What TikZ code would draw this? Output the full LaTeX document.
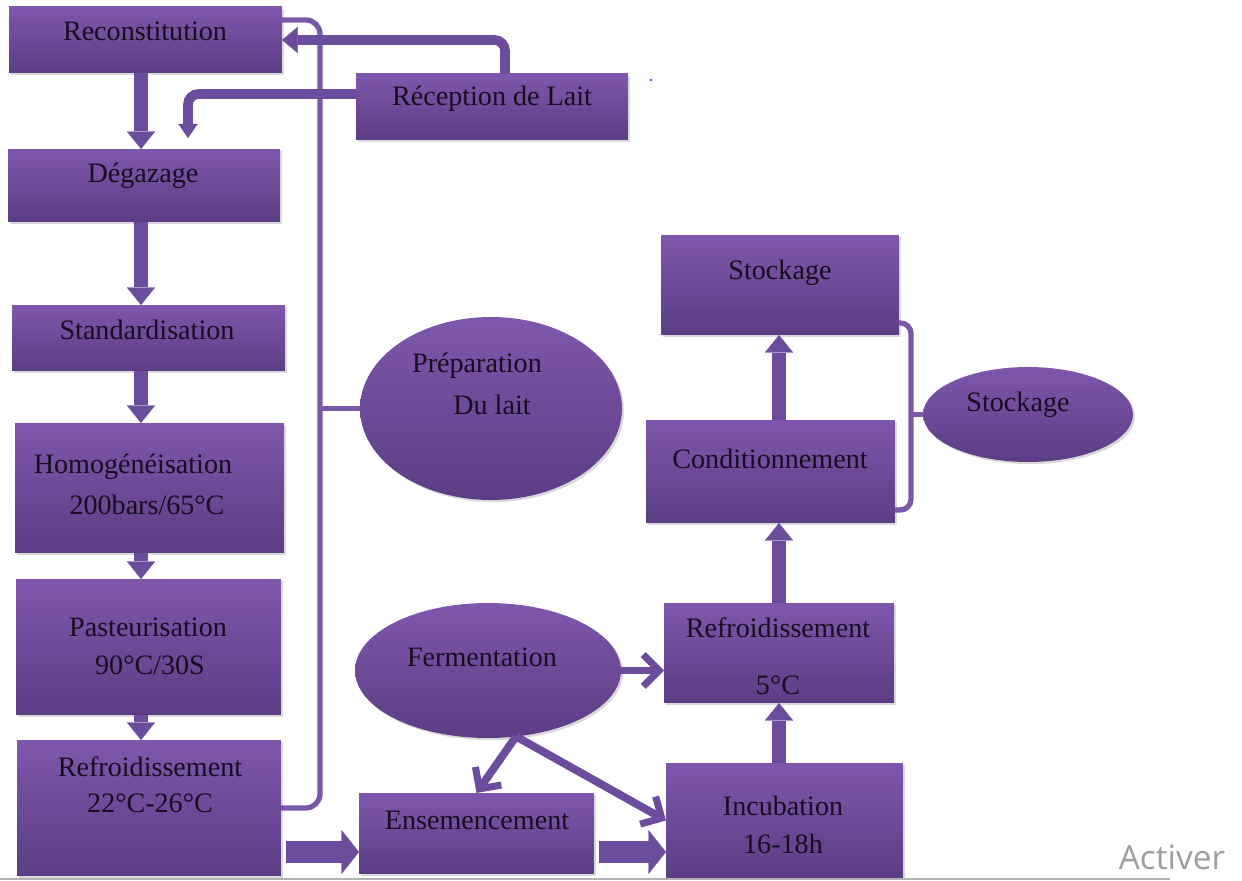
\documentclass[tikz,border=0pt]{standalone}
\usepackage{fontspec}
\setmainfont{Liberation Serif}
\newfontfamily\wmfont{Open Sans}
\usepackage{tikz}
\usetikzlibrary{shapes,arrows,positioning,calc,arrows.meta,shadows}

\definecolor{boxtop}{RGB}{126,87,172}
\definecolor{boxbot}{RGB}{92,61,132}
\definecolor{arrcol}{RGB}{108,76,156}
\definecolor{linecol}{RGB}{122,88,168}
\definecolor{txtcol}{RGB}{22,14,30}

\tikzset{
  box/.style={rectangle, inner sep=0pt, outer sep=0pt, top color=boxtop, bottom color=boxbot,
    drop shadow={opacity=0.3, shadow xshift=1.2pt, shadow yshift=-1.2pt}},
  oval/.style={ellipse, inner sep=0pt, outer sep=0pt, top color=boxtop, bottom color=boxbot,
    drop shadow={opacity=0.3, shadow xshift=1.2pt, shadow yshift=-1.2pt}},
  txt/.style={text=txtcol, font=\fontsize{16}{19}\selectfont, inner sep=0pt},
  wm/.style={text=black!38, font=\wmfont\fontsize{19}{22}\selectfont, inner sep=0pt},
  bigarrow/.style={arrcol, line width=8pt, -{Triangle[width=16pt,length=10pt,line width=0.1pt]}},
  fatarrow/.style={arrcol, line width=12.5pt, -{Triangle[width=25pt,length=10pt,line width=0.1pt]}},
  pipe/.style={arrcol, line width=5.5pt, rounded corners=6pt},
  bracket/.style={linecol, line width=3pt},
  barbarrow/.style={arrcol, line width=4.5pt, -{Straight Barb[length=9pt,width=18pt,line width=4pt]}}
}

\begin{document}
\begin{tikzpicture}[x=0.02cm, y=-0.02cm]
  \useasboundingbox (0,0) rectangle (1242,881);

  % Preparation steps
  \node[box, minimum width=5.46cm, minimum height=1.32cm] (recon) at (145.5,40) {};
  \node[box, minimum width=5.44cm, minimum height=1.32cm] (recep) at (492,107) {};
  \node[box, minimum width=5.44cm, minimum height=1.46cm] (degaz) at (144,185.5) {};
  \node[box, minimum width=5.46cm, minimum height=1.32cm] (standard) at (148.5,338) {};
  \node[box, minimum width=5.38cm, minimum height=2.6cm] (homog) at (149.5,488) {};
  \node[box, minimum width=5.3cm, minimum height=2.72cm] (pasteur) at (148.5,647) {};
  \node[box, minimum width=5.28cm, minimum height=2.72cm] (refroidA) at (149,808) {};
  \node[oval, minimum width=5.24cm, minimum height=3.66cm] (prep) at (491,408.5) {};

  % Fermentation and storage steps
  \node[oval, minimum width=5.32cm, minimum height=2.7cm] (ferm) at (488,670.5) {};
  \node[box, minimum width=4.7cm, minimum height=1.62cm] (ensem) at (476.5,833.5) {};
  \node[box, minimum width=4.74cm, minimum height=2.3cm] (incub) at (784.5,820.5) {};
  \node[box, minimum width=4.6cm, minimum height=2.0cm] (refroidB) at (779,653) {};
  \node[box, minimum width=4.98cm, minimum height=2.06cm] (condit) at (770.5,471.5) {};
  \node[box, minimum width=4.76cm, minimum height=2.0cm] (stockbox) at (780,285) {};
  \node[oval, minimum width=4.2cm, minimum height=1.9cm] (stockell) at (1028,414.5) {};

  % Labels
  \node[txt] (reconT) at (145,31) {Reconstitution};
  \node[txt] (recepT) at (492,99) {Réception de Lait};
  \node[txt] (degazT) at (143,176) {Dégazage};
  \node[txt] (standardT) at (147,330) {Standardisation};
  \node[txt] (homogT) at (133,467) {Homogénéisation};
  \node[txt] (homogU) at (147,505) {200bars/65°C};
  \node[txt] (pasteurT) at (148,627) {Pasteurisation};
  \node[txt] (pasteurU) at (150,665) {90°C/30S};
  \node[txt] (refroidAT) at (150,767) {Refroidissement};
  \node[txt] (refroidAU) at (150,803) {22°C-26°C};
  \node[txt] (prepT) at (477,366) {Préparation};
  \node[txt] (prepU) at (492,405) {Du lait};
  \node[txt] (fermT) at (482,657) {Fermentation};
  \node[txt] (ensemT) at (477,820) {Ensemencement};
  \node[txt] (incubT) at (783,806) {Incubation};
  \node[txt] (incubU) at (783,844) {16-18h};
  \node[txt] (refroidBT) at (778,628) {Refroidissement};
  \node[txt] (refroidBU) at (778,685) {5°C};
  \node[txt] (conditT) at (770,459) {Conditionnement};
  \node[txt] (stockboxT) at (780,273) {Stockage};
  \node[txt] (stockellT) at (1018,405) {Stockage};

  % Brackets
  \coordinate (brkL) at (320,0);
  \draw[bracket, rounded corners=8pt] ([yshift=0.4cm]recon.east) -| (brkL |- refroidA.east) -- (refroidA.east);
  \draw[bracket] (brkL |- prep.west) -- (prep.west);
  \coordinate (brkR) at (911,0);
  \coordinate (condR) at ([yshift=-0.77cm]condit.east);
  \draw[bracket, rounded corners=6pt] ([yshift=-0.76cm]stockbox.east) -| (brkR |- condR) -- (condR);
  \draw[bracket] (brkR |- stockell.west) -- (stockell.west);

  % Milk reception
  \draw[pipe, -{Triangle[width=15pt,length=9pt,line width=0.1pt]}] ([xshift=0.26cm]recep.north) |- (recon.east);
  \coordinate (degin) at (188,138);
  \draw[pipe, -{Triangle[width=11pt,length=8pt,line width=0.1pt]}] ([yshift=0.26cm]recep.west) -| (degin);

  % Column arrows
  \coordinate (colL) at (141,0);
  \foreach \a/\b in {recon/degaz, degaz/standard, standard/homog, homog/pasteur, pasteur/refroidA}
    \draw[bigarrow] (\a.south -| colL) -- (\b.north -| colL);
  \coordinate (colR) at (779,0);
  \foreach \a/\b in {incub/refroidB, refroidB/condit, condit/stockbox}
    \draw[bigarrow] (\a.north -| colR) -- (\b.south -| colR);

  % Bottom row
  \coordinate (rowB) at (0,852);
  \draw[fatarrow, shorten <=3pt] (refroidA.east |- rowB) -- (ensem.west |- rowB);
  \draw[fatarrow, shorten <=3pt] (ensem.east |- rowB) -- (incub.west |- rowB);

  % Fermentation
  \draw[barbarrow] (ferm.east) -- (refroidB.west |- ferm.east);
  \draw[barbarrow] (ferm.-67) -- (ensem.north);
  \draw[barbarrow] (ferm.-67) -- (incub.west);

  % Screen
  \fill[blue!70] (651,80) circle (0.8pt);
  \draw[black!30, line width=1pt] (0,879) -- (1170,879);
  \node[wm] (activ) at (1172,857) {Activer};
\end{tikzpicture}
\end{document}
